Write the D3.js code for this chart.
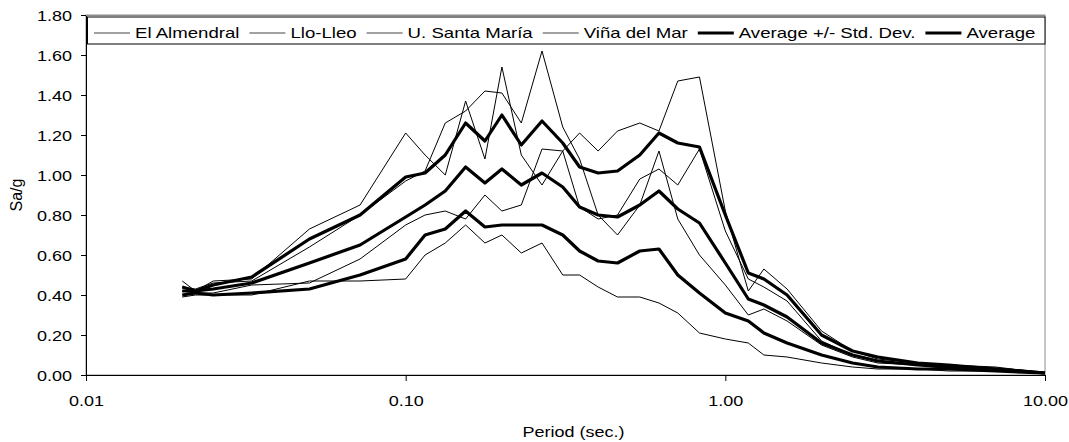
<!DOCTYPE html>
<html>
<head>
<meta charset="utf-8">
<script src="https://cdn.jsdelivr.net/npm/d3@7"></script>
<style>
  body { margin: 0; background: #fff; }
  text { font-family: "Liberation Sans", Arial, sans-serif; fill: #000; }
</style>
</head>
<body>
<script>
// periods (sec.)
const periods = [0.02, 0.022, 0.025, 0.033, 0.05, 0.072, 0.10, 0.115, 0.133, 0.154, 0.177, 0.20, 0.23, 0.267,
  0.31, 0.35, 0.40, 0.46, 0.54, 0.62, 0.71, 0.83, 1.00, 1.18, 1.32, 1.56, 2.00, 2.50, 3.00, 4.00, 5.00, 7.00, 10.00];

// Sa/g records
const elAlmendral = [0.47, 0.42, 0.47, 0.48, 0.73, 0.85, 1.21, 1.10, 1.00, 1.37, 1.08, 1.54, 1.10, 0.95, 1.12, 1.21,
  1.12, 1.22, 1.26, 1.22, 1.47, 1.49, 0.82, 0.42, 0.53, 0.43, 0.22, 0.12, 0.08, 0.06, 0.05, 0.04, 0.01];
const lloLleo = [0.44, 0.43, 0.46, 0.47, 0.64, 0.80, 0.97, 1.02, 1.26, 1.32, 1.42, 1.41, 1.26, 1.62, 1.24, 1.08,
  0.80, 0.70, 0.85, 1.12, 0.78, 0.60, 0.45, 0.30, 0.33, 0.27, 0.15, 0.09, 0.06, 0.05, 0.04, 0.03, 0.01];
const santaMaria = [0.42, 0.41, 0.41, 0.45, 0.46, 0.58, 0.75, 0.80, 0.82, 0.78, 0.90, 0.82, 0.85, 1.13, 1.12, 0.84,
  0.78, 0.80, 0.98, 1.03, 0.95, 1.13, 0.72, 0.48, 0.44, 0.37, 0.17, 0.10, 0.07, 0.05, 0.03, 0.03, 0.01];
const vinaDelMar = [0.39, 0.40, 0.40, 0.40, 0.47, 0.47, 0.48, 0.60, 0.66, 0.75, 0.66, 0.70, 0.61, 0.66, 0.50, 0.50,
  0.44, 0.39, 0.39, 0.36, 0.31, 0.21, 0.18, 0.16, 0.10, 0.09, 0.06, 0.04, 0.03, 0.03, 0.02, 0.02, 0.01];

// statistics
const avgPlusStd = [0.44, 0.42, 0.45, 0.49, 0.68, 0.80, 0.99, 1.01, 1.10, 1.26, 1.17, 1.30, 1.15, 1.27, 1.16, 1.04,
  1.01, 1.02, 1.10, 1.21, 1.16, 1.14, 0.80, 0.51, 0.48, 0.40, 0.20, 0.12, 0.09, 0.06, 0.05, 0.03, 0.01];
const average = [0.42, 0.42, 0.43, 0.46, 0.56, 0.65, 0.79, 0.85, 0.92, 1.04, 0.96, 1.03, 0.95, 1.01, 0.94, 0.84,
  0.80, 0.79, 0.85, 0.92, 0.83, 0.76, 0.56, 0.38, 0.35, 0.29, 0.16, 0.10, 0.07, 0.05, 0.04, 0.03, 0.01];
const avgMinusStd = [0.40, 0.41, 0.40, 0.41, 0.43, 0.50, 0.58, 0.70, 0.73, 0.82, 0.74, 0.75, 0.75, 0.75, 0.70, 0.62,
  0.57, 0.56, 0.62, 0.63, 0.50, 0.41, 0.31, 0.27, 0.21, 0.16, 0.10, 0.06, 0.04, 0.03, 0.03, 0.02, 0.01];

const yTicks = [0, 0.2, 0.4, 0.6, 0.8, 1.0, 1.2, 1.4, 1.6, 1.8];
const xTicks = [0.01, 0.1, 1, 10];

const series = [
  { name: "El Almendral", values: elAlmendral, w: 1 },
  { name: "Llo-Lleo", values: lloLleo, w: 1 },
  { name: "U. Santa María", values: santaMaria, w: 1 },
  { name: "Viña del Mar", values: vinaDelMar, w: 1 },
  { name: "Average +/- Std. Dev.", values: avgPlusStd, w: 3.2 },
  { name: null, values: avgMinusStd, w: 3.2 },
  { name: "Average", values: average, w: 3.2 },
];

const W = 1069, H = 442;
const plotL = 86, plotR = 1045, plotT = 15, plotB = 375;
let stretchK = 1.2; // text in the original is drawn a bit wide

function stretch(sel) {
  sel.each(function () {
    const w = this.getComputedTextLength();
    this.setAttribute("textLength", w * stretchK);
    this.setAttribute("lengthAdjust", "spacingAndGlyphs");
  });
}

const svg = d3.select("body").append("svg")
  .attr("width", W)
  .attr("height", H);

const x = d3.scaleLog().domain([0.01, 10]).range([plotL, plotR]);
const y = d3.scaleLinear().domain([0, 1.8]).range([plotB, plotT]);

// plot area border (grey)
svg.append("rect")
  .attr("x", plotL).attr("y", plotT)
  .attr("width", plotR - plotL).attr("height", plotB - plotT)
  .attr("fill", "none")
  .attr("stroke", "#8c8c8c")
  .attr("stroke-width", 1);

// lines
const line = d3.line()
  .x((d, i) => x(periods[i]))
  .y(d => y(d));

svg.append("g").selectAll("path")
  .data(series)
  .enter()
  .append("path")
  .attr("d", d => line(d.values))
  .attr("fill", "none")
  .attr("stroke", "#000")
  .attr("stroke-width", d => d.w)
  .attr("stroke-linejoin", "round");

// axes
const yAxis = svg.append("g")
  .attr("transform", `translate(${plotL},0)`)
  .call(d3.axisLeft(y).tickValues(yTicks).tickFormat(d3.format(".2f")).tickSize(5).tickSizeOuter(0).tickPadding(9));
const xAxis = svg.append("g")
  .attr("transform", `translate(0,${plotB})`)
  .call(d3.axisBottom(x).tickValues(xTicks).tickFormat(d3.format(".2f")).tickSize(6).tickSizeOuter(0).tickPadding(14));

[yAxis, xAxis].forEach(a => {
  a.selectAll("text").attr("font-size", 15);
  a.attr("font-family", null).attr("font-size", null);
  a.selectAll("line, path").attr("stroke", "#000");
  stretch(a.selectAll("text"));
});
yAxis.selectAll("text").attr("dy", "0.36em");

// axis titles
svg.append("text")
  .attr("x", (plotL + plotR) / 2 + 8)
  .attr("y", 437)
  .attr("text-anchor", "middle")
  .attr("font-size", 15)
  .text("Period (sec.)")
  .call(stretch);

svg.append("text")
  .attr("transform", `translate(22,${(plotT + plotB) / 2}) rotate(-90)`)
  .attr("text-anchor", "middle")
  .attr("font-size", 16)
  .text("Sa/g");

// legend
const legend = svg.append("g");
legend.append("rect")
  .attr("x", plotL + 1.5).attr("y", plotT + 2)
  .attr("width", plotR - plotL - 1.5).attr("height", 27)
  .attr("fill", "#fff")
  .attr("stroke", "#000")
  .attr("stroke-width", 1);
legend.append("line")
  .attr("x1", plotL).attr("x2", plotR)
  .attr("y1", plotT + 0.5).attr("y2", plotT + 0.5)
  .attr("stroke", "#8c8c8c");

stretchK = 1.24;
let lx = plotL + 8;
const ly = 33;
series.filter(s => s.name).forEach(s => {
  legend.append("line")
    .attr("x1", lx).attr("x2", lx + 36)
    .attr("y1", ly).attr("y2", ly)
    .attr("stroke", s.w > 1 ? "#000" : "#444")
    .attr("stroke-width", s.w);
  const t = legend.append("text")
    .attr("x", lx + 41)
    .attr("y", ly + 5)
    .attr("font-size", 15)
    .text(s.name);
  const tw = t.node().getComputedTextLength() * stretchK;
  t.call(stretch);
  lx += 41 + tw + 10;
});
</script>
</body>
</html>
